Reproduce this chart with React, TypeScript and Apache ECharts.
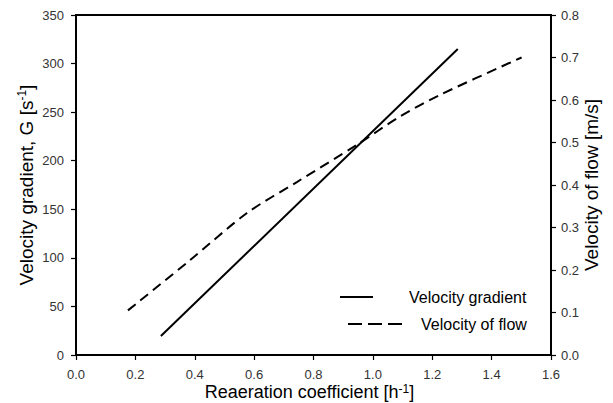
import React, { useEffect, useRef } from "react";
import * as echarts from "echarts";

const gradientK = [0.286, 1.286];
const gradientG = [19.5, 315];

const flowK = [0.175, 0.384, 0.576, 0.744, 0.945, 1.091, 1.226, 1.501];
const flowV = [0.105, 0.223, 0.334, 0.407, 0.494, 0.561, 0.612, 0.7];

const legendNames = ["Velocity gradient", "Velocity of flow"];

const FONT = "Liberation Sans, Arial, sans-serif";

export default function App() {
  const ref = useRef<HTMLDivElement>(null);
  useEffect(() => {
    document.body.style.margin = "0";
    const chart = echarts.init(ref.current!, null, { renderer: "svg" });
    const axisLine = { show: true, lineStyle: { color: "#000", width: 2 } };
    const axisTick = { show: true, inside: false, length: 5, lineStyle: { color: "#000", width: 1.2 } };
    const axisLabel = { color: "#333", fontSize: 13, lineHeight: 14, fontFamily: FONT };
    chart.setOption({
      animation: false,
      grid: {
        left: 76,
        right: 62,
        top: 15,
        bottom: 48,
        show: true,
        borderColor: "#000",
        borderWidth: 2,
        containLabel: false,
        outerBoundsMode: "none",
      },
      xAxis: {
        type: "value",
        min: 0,
        max: 1.6,
        interval: 0.2,
        axisLine,
        axisTick,
        splitLine: { show: false },
        axisLabel: { ...axisLabel, margin: 12, formatter: (v: number) => v.toFixed(1) },
        name: "Reaeration coefficient [h{sup|-1}]",
        nameLocation: "middle",
        nameGap: 27,
        nameMoveOverlap: false,
        nameTextStyle: {
          fontSize: 18,
          lineHeight: 20,
          color: "#000",
          fontFamily: FONT,
          padding: [0, 8, 0, 0],
          rich: { sup: { fontSize: 12, lineHeight: 12, color: "#000", fontFamily: FONT, padding: [0, 0, 7, 0] } },
        },
      },
      yAxis: [
        {
          type: "value",
          min: 0,
          max: 350,
          interval: 50,
          position: "left",
          axisLine,
          axisTick,
          splitLine: { show: false },
          axisLabel: { ...axisLabel, margin: 12 },
          name: "Velocity gradient, G [s{sup|-1}]",
          nameLocation: "middle",
          nameRotate: 90,
          nameGap: 39,
          nameMoveOverlap: false,
          nameTextStyle: {
            fontSize: 19,
            color: "#000",
            fontFamily: FONT,
            rich: { sup: { fontSize: 12, color: "#000", fontFamily: FONT, padding: [0, 0, 9, 0] } },
          },
        },
        {
          type: "value",
          min: 0,
          max: 0.8,
          interval: 0.1,
          position: "right",
          axisLine,
          axisTick,
          splitLine: { show: false },
          axisLabel: { ...axisLabel, margin: 10, formatter: (v: number) => v.toFixed(1) },
          name: "Velocity of flow [m/s]",
          nameLocation: "middle",
          nameRotate: 90,
          nameGap: 31,
          nameMoveOverlap: false,
          nameTextStyle: { fontSize: 19, color: "#000", fontFamily: FONT },
        },
      ],
      series: [
        {
          name: legendNames[0],
          type: "line",
          yAxisIndex: 0,
          showSymbol: false,
          data: gradientK.map((k, i) => [k, gradientG[i]]),
          lineStyle: { color: "#000", width: 2 },
        },
        {
          name: legendNames[1],
          type: "line",
          yAxisIndex: 1,
          showSymbol: false,
          smooth: 0.3,
          data: flowK.map((k, i) => [k, flowV[i]]),
          lineStyle: { color: "#000", width: 2, type: [10, 6] },
        },
      ],
      graphic: [
        { type: "line", shape: { x1: 340, y1: 297, x2: 373, y2: 297 }, style: { stroke: "#000", lineWidth: 2 } },
        {
          type: "text",
          x: 409,
          y: 297,
          style: { text: legendNames[0], fontSize: 16, fontFamily: FONT, fill: "#000", textVerticalAlign: "middle" },
        },
        {
          type: "line",
          shape: { x1: 348, y1: 324, x2: 402, y2: 324 },
          style: { stroke: "#000", lineWidth: 2, lineDash: [14, 6] },
        },
        {
          type: "text",
          x: 421,
          y: 324,
          style: { text: legendNames[1], fontSize: 16, fontFamily: FONT, fill: "#000", textVerticalAlign: "middle" },
        },
      ],
    });
    return () => chart.dispose();
  }, []);
  return <div ref={ref} style={{ width: 613, height: 403 }} />;
}
